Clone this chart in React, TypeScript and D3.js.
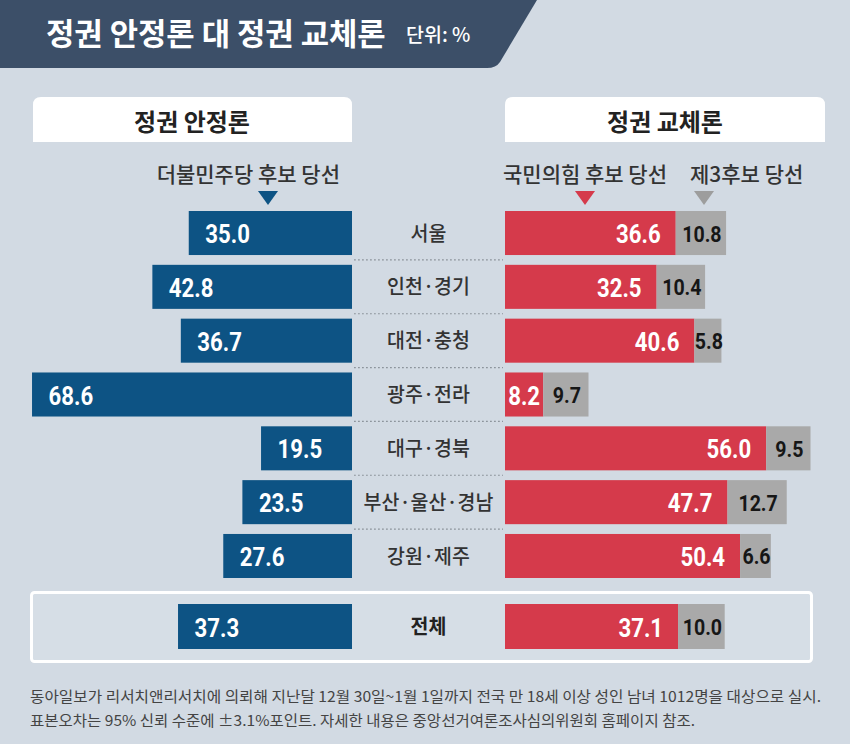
import React from 'react';
import * as d3 from 'd3';

// ---- data ----
const regions = ['서울', '인천·경기', '대전·충청', '광주·전라', '대구·경북', '부산·울산·경남', '강원·제주'];
const democratic = [35.0, 42.8, 36.7, 68.6, 19.5, 23.5, 27.6];
const ppp = [36.6, 32.5, 40.6, 8.2, 56.0, 47.7, 50.4];
const third = [10.8, 10.4, 5.8, 9.7, 9.5, 12.7, 6.6];
const totalLabel = '전체';
const totalDemocratic = 37.3;
const totalPpp = 37.1;
const totalThird = 10.0;

const title = '정권 안정론 대 정권 교체론';
const unit = '단위: %';
const leftHeader = '정권 안정론';
const rightHeader = '정권 교체론';
const legendLabels = ['더불민주당 후보 당선', '국민의힘 후보 당선', '제3후보 당선'];
const footnotes = [
  '동아일보가 리서치앤리서치에 의뢰해 지난달 12월 30일~1월 1일까지 전국 만 18세 이상 성인 남녀 1012명을 대상으로 실시.',
  '표본오차는 95% 신뢰 수준에 ±3.1%포인트. 자세한  내용은 중앙선거여론조사심의위원회 홈페이지 참조.',
];

// ---- styles ----
const W = 850;
const H = 744;
const BG = '#d2dae3';
const NAVY = '#3c4f68';
const BLUE = '#0d5384';
const RED = '#d53a4b';
const GRAY = '#a9a9a9';
const KR = "'Noto Sans CJK KR', 'Noto Sans', sans-serif";
const NUM = "Roboto, 'Liberation Sans', sans-serif";
const fmt = d3.format('.1f');

const LEFT_EDGE = 352;
const RIGHT_EDGE = 505;

const x = d3.scaleLinear().domain([0, 70]).range([0, 326.5]);
const y = d3.scaleBand<string>().domain(regions).range([211, 578]).paddingInner(0.182);

function Num({ x, y, anchor, size, fill, children }: any) {
  return (
    <text
      transform={`translate(${x},${y}) scale(0.87,1)`}
      textAnchor={anchor}
      fontFamily={NUM}
      fontWeight={700}
      fontSize={size}
      fill={fill}
    >
      {children}
    </text>
  );
}

function Row({ label, d, p, t, top, h, bold }: any) {
  const wd = x(d);
  const wp = x(p);
  const wt = x(t);
  const mid = top + h / 2;
  const base = mid + 10;
  return (
    <g>
      <rect x={LEFT_EDGE - wd} y={top} width={wd} height={h} fill={BLUE} />
      <rect x={RIGHT_EDGE} y={top} width={wp} height={h} fill={RED} />
      <rect x={RIGHT_EDGE + wp} y={top} width={wt} height={h} fill={GRAY} />
      <Num x={LEFT_EDGE - wd + 16.5} y={base} anchor="start" size={25.5} fill="#fff">
        {fmt(d)}
      </Num>
      {wp > 60 ? (
        <Num x={RIGHT_EDGE + wp - 15} y={base} anchor="end" size={25.5} fill="#fff">
          {fmt(p)}
        </Num>
      ) : (
        <Num x={RIGHT_EDGE + wp / 2} y={base} anchor="middle" size={25.5} fill="#fff">
          {fmt(p)}
        </Num>
      )}
      <Num x={RIGHT_EDGE + wp + wt / 2 + 1} y={mid + 8.5} anchor="middle" size={22.5} fill="#161616">
        {fmt(t)}
      </Num>
      <text
        transform={`translate(${(LEFT_EDGE + RIGHT_EDGE) / 2},${mid + 7.6}) scale(0.95,1)`}
        textAnchor="middle"
        fontFamily={KR}
        fontWeight={bold ? 700 : 500}
        fontSize={20.5}
        fill={bold ? '#222' : '#333'}
      >
        {label}
      </text>
    </g>
  );
}

export default function App() {
  const h = y.bandwidth();
  const step = y.step();
  const tri = (cx: number, color: string) => (
    <path d={`M${cx - 10},191 L${cx + 10},191 L${cx},205 Z`} fill={color} />
  );
  const headerBox = (x0: number, x1: number) => {
    const r = 8;
    return (
      <path
        d={`M${x0},142 L${x0},${97 + r} Q${x0},97 ${x0 + r},97 L${x1 - r},97 Q${x1},97 ${x1},${97 + r} L${x1},142 Z`}
        fill="#fff"
      />
    );
  };
  return (
    <svg
      width={W}
      height={H}
      viewBox={`0 0 ${W} ${H}`}
      style={{ position: 'absolute', left: 0, top: 0, display: 'block' }}
    >
      <rect x={0} y={0} width={W} height={H} fill={BG} />
      {/* title banner */}
      <path d="M0,0 L537,0 L500,62 Q496,68 487,68 L0,68 Z" fill={NAVY} />
      <text x={46} y={44.5} fontFamily={KR} fontWeight={700} fontSize={30.8} fill="#fff">
        {title}
      </text>
      <text x={406} y={42} fontFamily={KR} fontWeight={500} fontSize={19.5} fill="#fff">
        {unit}
      </text>

      {/* headers */}
      {headerBox(33, 352)}
      {headerBox(505, 825)}
      <text x={192} y={130.5} textAnchor="middle" fontFamily={KR} fontWeight={700} fontSize={24} fill="#222">
        {leftHeader}
      </text>
      <text x={665} y={130.5} textAnchor="middle" fontFamily={KR} fontWeight={700} fontSize={24} fill="#222">
        {rightHeader}
      </text>

      {/* legend */}
      <text x={340} y={182} textAnchor="end" fontFamily={KR} fontWeight={500} fontSize={21} fill="#333">
        {legendLabels[0]}
      </text>
      <text x={503} y={182} textAnchor="start" fontFamily={KR} fontWeight={500} fontSize={21} fill="#333">
        {legendLabels[1]}
      </text>
      <text x={690} y={182} textAnchor="start" fontFamily={KR} fontWeight={500} fontSize={21} fill="#333">
        {legendLabels[2]}
      </text>
      {tri(268, BLUE)}
      {tri(585, RED)}
      {tri(704, '#9d9d9d')}

      {/* separators */}
      {regions.slice(1).map((r) => {
        const yy = (y(r) as number) - (step - h) / 2;
        return (
          <line
            key={'sep' + r}
            x1={LEFT_EDGE + 2}
            x2={RIGHT_EDGE - 2}
            y1={yy}
            y2={yy}
            stroke="#8d949c"
            strokeWidth={1.2}
            strokeDasharray="1.8,2.2"
          />
        );
      })}

      {/* rows */}
      {regions.map((r, i) => (
        <Row key={r} label={r} d={democratic[i]} p={ppp[i]} t={third[i]} top={y(r)} h={h} />
      ))}

      {/* total */}
      <rect x={31.5} y={592.5} width={780} height={69} rx={3} fill="#d6dee6" stroke="#fff" strokeWidth={3} />
      <Row label={totalLabel} d={totalDemocratic} p={totalPpp} t={totalThird} top={604} h={45} bold />

      {/* footnotes */}
      <text
        x={30}
        y={701.5}
        fontFamily={KR}
        fontSize={15}
        fill="#444"
        textLength={791}
        lengthAdjust="spacingAndGlyphs"
      >
        {footnotes[0]}
      </text>
      <text
        x={30}
        y={725.5}
        fontFamily={KR}
        fontSize={15}
        fill="#444"
        textLength={665}
        lengthAdjust="spacingAndGlyphs"
      >
        {footnotes[1]}
      </text>
    </svg>
  );
}
